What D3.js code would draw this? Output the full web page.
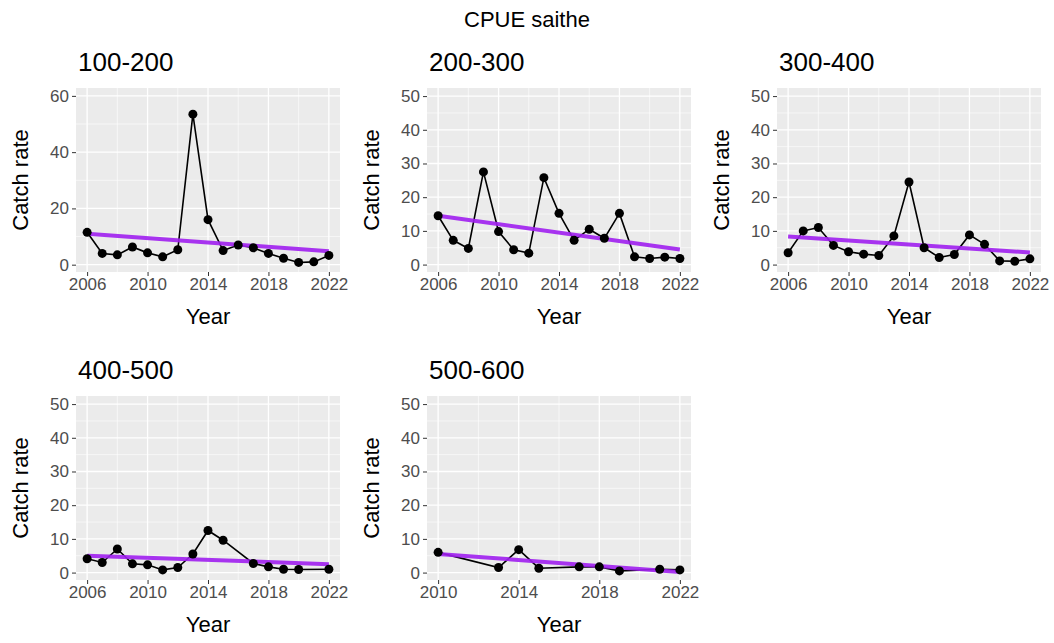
<!DOCTYPE html>
<html>
<head>
<meta charset="UTF-8">
<script src="https://d3js.org/d3.v7.min.js"></script>
<style>
body { margin: 0; background: #fff; font-family: "Liberation Sans", Arial, sans-serif; }
</style>
</head>
<body>
<script>
// data
var panelNames = ["100-200", "200-300", "300-400", "400-500", "500-600"];
var yearsFull = [2006, 2007, 2008, 2009, 2010, 2011, 2012, 2013, 2014, 2015, 2016, 2017, 2018, 2019, 2020, 2021, 2022];
var years400 = [2006, 2007, 2008, 2009, 2010, 2011, 2012, 2013, 2014, 2015, 2017, 2018, 2019, 2020, 2022];
var years500 = [2010, 2013, 2014, 2015, 2017, 2018, 2019, 2021, 2022];
var rate100 = [11.5, 4, 3.5, 6.3, 4.2, 2.8, 5.3, 53.5, 16, 5, 7, 6, 4, 2.3, 0.8, 1, 3.3];
var rate200 = [14.5, 7.2, 4.8, 27.5, 9.8, 4.4, 3.4, 25.8, 15.2, 7.2, 10.5, 7.8, 15.2, 2.3, 1.8, 2.2, 1.8];
var rate300 = [3.5, 10, 11, 5.7, 3.8, 3.1, 2.7, 8.5, 24.5, 5, 2.1, 3, 8.8, 6, 1.1, 1, 1.7];
var rate400 = [4.1, 3, 7, 2.6, 2.3, 0.8, 1.5, 5.5, 12.5, 9.6, 2.7, 1.7, 1, 0.9, 1];
var rate500 = [6, 1.5, 6.8, 1.3, 1.7, 1.7, 0.5, 1, 0.8];
var trend100 = [11, 4.8];
var trend200 = [14.5, 4.5];
var trend300 = [8.3, 3.6];
var trend400 = [5, 2.5];
var trend500 = [5.5, 0.2];
var xTicks = [2006, 2010, 2014, 2018, 2022];
var xTicks500 = [2010, 2014, 2018, 2022];

var panels = [
  {name: panelNames[0], years: yearsFull, vals: rate100, trend: trend100, xt: xTicks, ymax: 60},
  {name: panelNames[1], years: yearsFull, vals: rate200, trend: trend200, xt: xTicks, ymax: 50},
  {name: panelNames[2], years: yearsFull, vals: rate300, trend: trend300, xt: xTicks, ymax: 50},
  {name: panelNames[3], years: years400, vals: rate400, trend: trend400, xt: xTicks, ymax: 50},
  {name: panelNames[4], years: years500, vals: rate500, trend: trend500, xt: xTicks500, ymax: 50}
];

var W = 1054, H = 643;
var svg = d3.select("body").append("svg").attr("width", W).attr("height", H);

svg.append("text").attr("x", 527).attr("y", 27).attr("text-anchor", "middle")
  .style("font-size", "22px").text("CPUE saithe");

var lefts = [76, 427, 777], tops = [88, 396];
var pw = 264, ph = 184;

panels.forEach(function(p, i) {
  var ox = lefts[i % 3], oy = tops[Math.floor(i / 3)];
  var g = svg.append("g").attr("transform", "translate(" + ox + "," + oy + ")");
  var x0 = p.years[0], x1 = p.years[p.years.length - 1];
  var xe = (x1 - x0) * 0.046;
  var x = d3.scaleLinear().domain([x0 - xe, x1 + xe]).range([0, pw]);
  var y = d3.scaleLinear().domain(p.ymax == 60 ? [-2.6, 62.8] : [-2.2, 52.4]).range([ph, 0]);
  var yt = d3.range(0, p.ymax + 1, 10 * (p.ymax == 60 ? 2 : 1));

  g.append("rect").attr("width", pw).attr("height", ph).attr("fill", "#ebebeb");
  // minor grid
  var ystep = yt[1] - yt[0];
  yt.slice(0, -1).forEach(function(v) {
    g.append("line").attr("x1", 0).attr("x2", pw).attr("y1", y(v + ystep / 2)).attr("y2", y(v + ystep / 2))
      .attr("stroke", "#fff").attr("stroke-width", 0.6);
  });
  var xstep = p.xt[1] - p.xt[0];
  p.xt.slice(0, -1).forEach(function(v) {
    g.append("line").attr("y1", 0).attr("y2", ph).attr("x1", x(v + xstep / 2)).attr("x2", x(v + xstep / 2))
      .attr("stroke", "#fff").attr("stroke-width", 0.6);
  });
  // major grid
  yt.forEach(function(v) {
    g.append("line").attr("x1", 0).attr("x2", pw).attr("y1", y(v)).attr("y2", y(v))
      .attr("stroke", "#fff").attr("stroke-width", 1.3);
  });
  p.xt.forEach(function(v) {
    g.append("line").attr("y1", 0).attr("y2", ph).attr("x1", x(v)).attr("x2", x(v))
      .attr("stroke", "#fff").attr("stroke-width", 1.3);
  });

  var ya = g.append("g").call(d3.axisLeft(y).tickValues(yt).tickSize(4).tickPadding(3));
  var xa = g.append("g").attr("transform", "translate(0," + ph + ")")
    .call(d3.axisBottom(x).tickValues(p.xt).tickFormat(d3.format("d")).tickSize(4).tickPadding(2));
  [ya, xa].forEach(function(a) {
    a.select(".domain").remove();
    a.selectAll("line").attr("stroke", "#333");
    a.selectAll("text").attr("fill", "#4d4d4d").style("font-size", "17px")
      .style("font-family", "Liberation Sans, Arial, sans-serif");
  });

  var pts = p.years.map(function(yr, k) { return [yr, p.vals[k]]; });
  g.append("path").attr("d", d3.line().x(function(d) { return x(d[0]); }).y(function(d) { return y(d[1]); })(pts))
    .attr("fill", "none").attr("stroke", "#000").attr("stroke-width", 1.6);
  g.append("line").attr("x1", x(x0)).attr("x2", x(x1)).attr("y1", y(p.trend[0])).attr("y2", y(p.trend[1]))
    .attr("stroke", "#a020f0").attr("stroke-width", 4).attr("opacity", 0.9);
  g.selectAll("circle.pt").data(pts).enter().append("circle")
    .attr("cx", function(d) { return x(d[0]); }).attr("cy", function(d) { return y(d[1]); })
    .attr("r", 4.5).attr("fill", "#000");

  g.append("text").attr("x", 2).attr("y", -17).style("font-size", "26px").text(p.name);
  g.append("text").attr("x", pw / 2).attr("y", ph + 52).attr("text-anchor", "middle")
    .style("font-size", "22px").text("Year");
  g.append("text").attr("transform", "translate(-48," + (ph / 2) + ") rotate(-90)")
    .attr("text-anchor", "middle").style("font-size", "22px").text("Catch rate");
});
</script>
</body>
</html>
